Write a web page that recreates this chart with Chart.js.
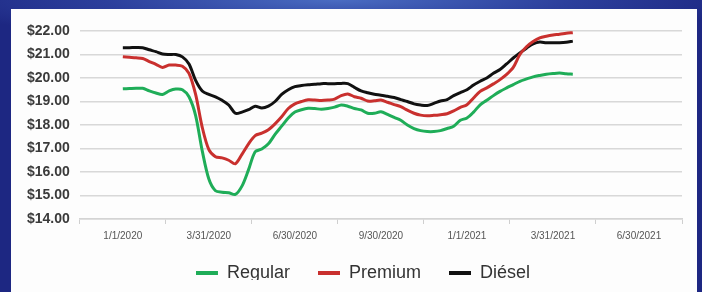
<!DOCTYPE html>
<html>
<head>
<meta charset="utf-8">
<script src="https://cdn.jsdelivr.net/npm/chart.js@4"></script>
<style>
  html, body { margin: 0; padding: 0; }
  body {
    width: 702px; height: 292px; overflow: hidden; position: relative;
    background: radial-gradient(ellipse 60% 40px at 48% 0%, #4a6cc2 0%, #2c3f9c 55%, #1d2782 100%);
  }
  #panel {
    position: absolute; left: 11px; top: 9px; width: 686px; height: 283px;
    background: #fdfdfd;
  }
  #chart { display: block; }
</style>
</head>
<body>
<div id="panel"><canvas id="chart" width="686" height="283"></canvas></div>
<script>
  // quarter labels on the x axis (one category per quarter, 13 weeks each)
  const quarterLabels = ['1/1/2020', '3/31/2020', '6/30/2020', '9/30/2020', '1/1/2021', '3/31/2021', '6/30/2021'];
  const WEEKS_PER_QUARTER = 13;

  // weekly prices, week 0 = 1/1/2020
  const regular = [
    19.54, 19.55, 19.56, 19.56, 19.45, 19.36, 19.30, 19.45, 19.53, 19.50,
    19.20, 18.40, 16.90, 15.70, 15.20, 15.14, 15.12, 15.05, 15.40, 16.10,
    16.86, 16.98, 17.20, 17.60, 17.95, 18.30, 18.55, 18.65, 18.71, 18.70,
    18.67, 18.70, 18.76, 18.85, 18.80, 18.70, 18.64, 18.50, 18.50, 18.56,
    18.45, 18.32, 18.20, 18.00, 17.85, 17.76, 17.72, 17.72, 17.76, 17.85,
    17.95, 18.20, 18.30, 18.55, 18.86, 19.05, 19.25, 19.43, 19.58, 19.72,
    19.86, 19.96, 20.05, 20.11, 20.16, 20.19, 20.21, 20.18, 20.16
  ];
  const premium = [
    20.90, 20.88, 20.86, 20.83, 20.70, 20.58, 20.45, 20.55, 20.55, 20.50,
    20.20, 19.30, 17.90, 16.95, 16.65, 16.60, 16.50, 16.35, 16.75, 17.20,
    17.55, 17.65, 17.80, 18.05, 18.35, 18.70, 18.90, 19.00, 19.07, 19.06,
    19.04, 19.06, 19.10, 19.25, 19.32, 19.20, 19.14, 19.02, 19.03, 19.06,
    18.97, 18.87, 18.78, 18.63, 18.50, 18.42, 18.39, 18.41, 18.44, 18.48,
    18.60, 18.75, 18.86, 19.15, 19.43, 19.58, 19.75, 19.93, 20.15, 20.45,
    21.00, 21.33, 21.55, 21.71, 21.78, 21.83, 21.86, 21.90, 21.93
  ];
  const diesel = [
    21.29, 21.29, 21.30, 21.29, 21.20, 21.12, 21.02, 21.00, 21.00, 20.90,
    20.60, 19.90, 19.45, 19.30, 19.20, 19.05, 18.85, 18.50, 18.55, 18.65,
    18.80, 18.72, 18.80, 19.00, 19.30, 19.50, 19.63, 19.68, 19.71, 19.73,
    19.76, 19.76, 19.76, 19.77, 19.76, 19.60, 19.45, 19.37, 19.31, 19.27,
    19.22, 19.17, 19.08, 19.00, 18.90, 18.85, 18.83, 18.92, 19.02, 19.08,
    19.25, 19.38, 19.50, 19.70, 19.86, 20.00, 20.20, 20.36, 20.60, 20.85,
    21.07, 21.27, 21.45, 21.53, 21.50, 21.50, 21.50, 21.52, 21.57
  ];

  const toPoints = arr => arr.map((v, i) => ({ x: i, y: v }));

  function series(label, values, color) {
    return {
      label,
      data: toPoints(values),
      borderColor: color,
      backgroundColor: color,
      borderWidth: 3,
      pointRadius: 0,
      tension: 0.3
    };
  }

  const baseFont = "'Liberation Sans', Arial, sans-serif";
  const LEGEND_TRIM = 12;

  // legend: take less room from the plot, and sit centred like the original
  const legendTweak = {
    id: 'legendTweak',
    beforeUpdate(chart) {
      const legend = chart.legend;
      if (!legend || legend._trimmed) return;
      const fit = legend.fit;
      legend.fit = function () {
        fit.call(this);
        this.height -= LEGEND_TRIM;
      };
      legend._trimmed = true;
    },
    afterLayout(chart) {
      const legend = chart.legend;
      if (!legend) return;
      legend.left += 27;
      legend.top -= LEGEND_TRIM;
      legend.bottom -= LEGEND_TRIM;
    }
  };

  new Chart(document.getElementById('chart'), {
    type: 'line',
    data: {
      datasets: [
        series('Regular', regular, '#1fad58'),
        series('Premium', premium, '#c9302e'),
        series('Diésel', diesel, '#111111')
      ]
    },
    plugins: [legendTweak],
    options: {
      responsive: false,
      animation: false,
      layout: { padding: { top: 22, right: 15, left: 6, bottom: 0 } },
      plugins: {
        tooltip: { enabled: false },
        legend: {
          position: 'bottom',
          labels: {
            font: { family: baseFont, size: 18 },
            color: '#333',
            boxWidth: 22,
            boxHeight: 4,
            padding: 28,
            generateLabels(chart) {
              return Chart.defaults.plugins.legend.labels.generateLabels(chart)
                .map(l => ({ ...l, lineWidth: 0 }));
            }
          }
        }
      },
      scales: {
        x: {
          type: 'linear',
          min: -WEEKS_PER_QUARTER / 2,
          max: (quarterLabels.length - 0.5) * WEEKS_PER_QUARTER,
          afterBuildTicks(scale) {
            scale.ticks = quarterLabels.map((_, i) => ({ value: i * WEEKS_PER_QUARTER }));
          },
          grid: {
            offset: true,
            drawOnChartArea: false,
            tickLength: 5,
            color: '#cfcfcf'
          },
          border: { color: '#d4d4d4', width: 1.5 },
          ticks: {
            autoSkip: false,
            maxRotation: 0,
            padding: 6,
            color: '#555',
            font: { family: baseFont, size: 10 },
            callback: (v, i) => quarterLabels[i]
          }
        },
        y: {
          min: 14,
          max: 22,
          grid: { drawTicks: false, color: '#d8d8d8', lineWidth: 1.5 },
          border: { display: false },
          ticks: {
            stepSize: 1,
            padding: 10,
            color: '#3a3a3a',
            font: { family: baseFont, size: 14, weight: 'bold' },
            callback: v => '$' + v.toFixed(2)
          }
        }
      }
    }
  });
</script>
</body>
</html>
